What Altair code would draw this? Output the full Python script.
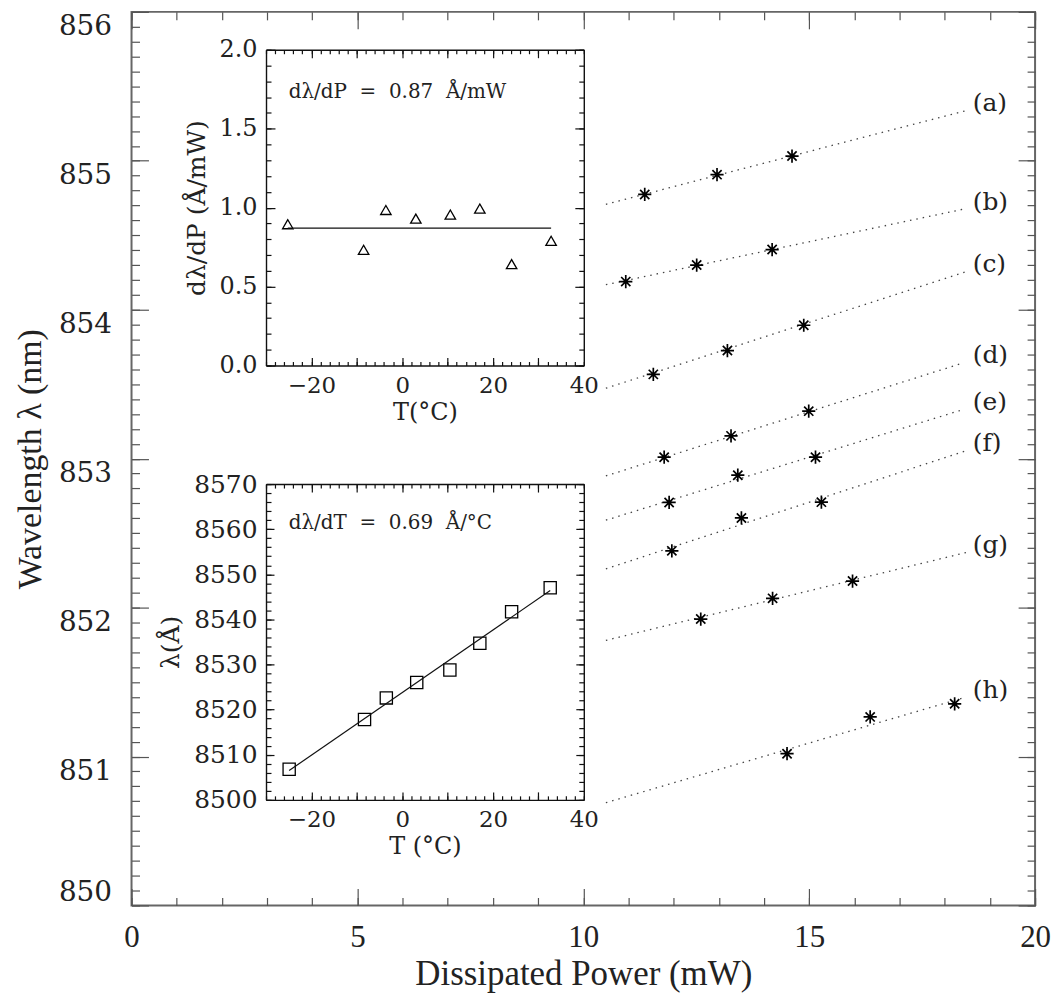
import altair as alt
import pandas as pd

# ---------------- main panel data ----------------
SERIES = ["(a)", "(b)", "(c)", "(d)", "(e)", "(f)", "(g)", "(h)"]
STAR_P = [
    [11.36, 12.96, 14.62],
    [10.94, 12.51, 14.18],
    [11.55, 13.19, 14.88],
    [11.79, 13.27, 14.99],
    [11.90, 13.42, 15.14],
    [11.96, 13.50, 15.27],
    [12.60, 14.19, 15.96],
    [14.51, 16.35, 18.22],
]
STAR_L = [
    [854.774, 854.907, 855.032],
    [854.189, 854.300, 854.404],
    [853.566, 853.726, 853.896],
    [853.010, 853.153, 853.319],
    [852.706, 852.889, 853.010],
    [852.381, 852.602, 852.708],
    [851.923, 852.062, 852.178],
    [851.019, 851.266, 851.354],
]
FIT_P0 = [10.50, 10.50, 10.50, 10.50, 10.50, 10.50, 10.50, 10.50]
FIT_P1 = [18.51, 18.41, 18.48, 18.41, 18.41, 18.48, 18.48, 18.41]
FIT_L0 = [854.708, 854.168, 853.473, 852.884, 852.587, 852.260, 851.780, 850.690]
FIT_L1 = [855.340, 854.675, 854.256, 853.643, 853.330, 853.054, 852.370, 851.394]

# ---------------- inset 1: dλ/dP vs T ----------------
TEMP_A = [-25.2, -8.5, -3.6, 3.0, 10.6, 17.1, 24.1, 32.8]
DLDP = [0.895, 0.733, 0.985, 0.930, 0.956, 0.994, 0.642, 0.790]
DLDP_FIT_T = [-25.2, 32.8]
DLDP_FIT = [0.87, 0.87]

# ---------------- inset 2: λ vs T ----------------
TEMP_B = [-24.9, -8.3, -3.5, 3.2, 10.5, 17.1, 24.1, 32.6]
LAMBDA_A = [8506.8, 8517.8, 8522.6, 8526.0, 8528.8, 8534.7, 8541.7, 8547.0]
LAM_FIT_T = [-24.9, 32.6]
LAM_FIT = [8506.5, 8546.4]

# ---------------- tick values ----------------
MAIN_X_TICKS = [0, 5, 10, 15, 20]
MAIN_X_MINOR = list(range(0, 21))
MAIN_Y_TICKS = [850, 851, 852, 853, 854, 855, 856]
MAIN_Y_MINOR = [round(850 + i * 0.1, 1) for i in range(61)]
INSET_T_LABELS = [-20, 0, 20, 40]
INSET_T_MAJOR = [-20, -10, 0, 10, 20, 30]
INSET_T_MINOR = list(range(-30, 41, 2))
DLDP_TICKS = [0.0, 0.5, 1.0, 1.5, 2.0]
DLDP_MINOR = [round(i * 0.1, 1) for i in range(21)]
LAM_TICKS = [8500, 8510, 8520, 8530, 8540, 8550, 8560, 8570]
LAM_MINOR = list(range(8500, 8571, 2))

W, H = 907, 897
TOP = 10  # page y of the plot's top edge

# ---------------- data frames ----------------
stars = pd.DataFrame(
    [{"series": s, "P": p, "L": l}
     for s, ps, ls in zip(SERIES, STAR_P, STAR_L) for p, l in zip(ps, ls)]
)
fits = pd.DataFrame(
    [{"series": s, "P": p, "L": l}
     for s, p0, p1, l0, l1 in zip(SERIES, FIT_P0, FIT_P1, FIT_L0, FIT_L1)
     for p, l in ((p0, l0), (p1, l1))]
)
labels = pd.DataFrame({"series": SERIES, "L": FIT_L1})
labels["L"] = labels["L"] + 0.05
labels["P"] = 18.62

ins1 = pd.DataFrame({"T": TEMP_A, "V": DLDP})
ins1_fit = pd.DataFrame({"T": DLDP_FIT_T, "V": DLDP_FIT})
ins1_txt = pd.DataFrame({"T": [-25.0], "V": [1.735],
                         "txt": ["dλ/dP\u00a0 =\u00a0 0.87\u00a0 Å/mW"]})

ins2 = pd.DataFrame({"T": TEMP_B, "V": LAMBDA_A})
ins2_fit = pd.DataFrame({"T": LAM_FIT_T, "V": LAM_FIT})
ins2_txt = pd.DataFrame({"T": [-25.0], "V": [8561.4],
                         "txt": ["dλ/dT\u00a0 =\u00a0 0.69\u00a0 Å/°C"]})


# ---------------- scales ----------------
def sc(domain, rng=None):
    if rng is None:
        return alt.Scale(domain=domain, nice=False, zero=False)
    return alt.Scale(domain=domain, range=rng, nice=False, zero=False)


# inset frames in page pixels: x 267..586, y 48..365 and 484..801
IN_L, IN_R = 267 - 132, 586 - 132
I1_T, I1_B = 48 - TOP, 365 - TOP
I2_T, I2_B = 484 - TOP, 801 - TOP

MX = lambda: sc([0, 20])
MY = lambda: sc([850, 856])
I1X = lambda: sc([-30, 40], [IN_L, IN_R])
I1Y = lambda: sc([0, 2], [I1_B, I1_T])
I2X = lambda: sc([-30, 40], [IN_L, IN_R])
I2Y = lambda: sc([8500, 8570], [I2_B, I2_T])

SERIF_C = "DejaVu Serif"
SERIF_H = "Liberation Serif"
MAIN_TICK = "#555555"
INK = "#111111"
TXT = "#222222"


def tick_axis(orient, offset, values, size, color, domain=False, width=1.2):
    kw = dict(orient=orient, offset=offset, values=values, tickSize=size, ticks=True,
              labels=False, grid=False, title=None, tickColor=color, tickWidth=width,
              domain=domain)
    if domain:
        kw.update(domainColor=color, domainWidth=1.4)
    return alt.Axis(**kw)


def ghost(df, xs, ys, xaxis, yaxis):
    return alt.Chart(df).mark_point(opacity=0).encode(
        x=alt.X("T:Q" if "T" in df.columns else "P:Q", scale=xs, axis=xaxis),
        y=alt.Y("V:Q" if "V" in df.columns else "L:Q", scale=ys, axis=yaxis),
    )


STAR = "M0,-1L0,1M-1,0L1,0M-0.7,-0.7L0.7,0.7M-0.7,0.7L0.7,-0.7"

# ---------------- main panel layers ----------------
main_stars = alt.Chart(stars).mark_point(
    shape=STAR, filled=False, stroke="black", strokeWidth=1.7, size=175, opacity=1
).encode(
    x=alt.X("P:Q", scale=MX(), axis=alt.Axis(
        orient="bottom", values=MAIN_X_TICKS, ticks=False, tickSize=0, domain=False, grid=False,
        labelFont=SERIF_H, labelFontSize=31, labelPadding=17, labelColor=TXT,
        labelFlush=False, labelOverlap=False,
        title="Dissipated Power (mW)", titleFont=SERIF_H, titleFontSize=35,
        titleFontWeight="normal", titlePadding=4, titleColor=TXT)),
    y=alt.Y("L:Q", scale=MY(), axis=alt.Axis(
        orient="left", values=MAIN_Y_TICKS, ticks=False, tickSize=0, domain=False, grid=False,
        labelFont=SERIF_C, labelFontSize=28, labelPadding=20, labelColor=TXT,
        labelBaseline={"condition": {"test": "datum.value == 850", "value": "bottom"},
                       "value": "top"},
        labelOffset=1, labelOverlap=False, format="d",
        title="Wavelength λ (nm)", titleFont=SERIF_H, titleFontSize=34,
        titleFontWeight="normal", titlePadding=11, titleColor=TXT)),
)

main_lines = alt.Chart(fits).mark_line(
    color="#444444", strokeWidth=1.3, strokeDash=[1.5, 5]
).encode(
    x=alt.X("P:Q", scale=MX(), axis=None),
    y=alt.Y("L:Q", scale=MY(), axis=None),
    detail="series:N",
)

main_labels = alt.Chart(labels).mark_text(
    align="left", baseline="middle", font=SERIF_C, fontSize=25, color=TXT
).encode(
    x=alt.X("P:Q", scale=MX(), axis=None),
    y=alt.Y("L:Q", scale=MY(), axis=None),
    text="series:N",
)

m_major_bl = ghost(stars, MX(), MY(),
                   tick_axis("top", -H, MAIN_X_TICKS, 17, MAIN_TICK),
                   tick_axis("right", -W, MAIN_Y_TICKS, 17, MAIN_TICK))
m_minor_bl = ghost(stars, MX(), MY(),
                   tick_axis("top", -H, MAIN_X_MINOR, 8, MAIN_TICK),
                   tick_axis("right", -W, MAIN_Y_MINOR, 8, MAIN_TICK))
m_major_tr = ghost(stars, MX(), MY(),
                   tick_axis("bottom", -H, MAIN_X_TICKS, 17, MAIN_TICK),
                   tick_axis("left", -W, MAIN_Y_TICKS, 17, MAIN_TICK))
m_minor_tr = ghost(stars, MX(), MY(),
                   tick_axis("bottom", -H, MAIN_X_MINOR, 8, MAIN_TICK),
                   tick_axis("left", -W, MAIN_Y_MINOR, 8, MAIN_TICK))


# ---------------- inset builder ----------------
def inset(df, fit_df, txt_df, xs, ys, y_top, y_bottom,
          shape, msize, y_vals, y_minor, y_major_len, y_fmt, y_label_size,
          x_title, y_title):
    pts = alt.Chart(df).mark_point(
        shape=shape, filled=False, stroke="black", strokeWidth=1.3, size=msize, opacity=1
    ).encode(
        x=alt.X("T:Q", scale=xs(), axis=alt.Axis(
            orient="bottom", offset=-(H - y_bottom), values=INSET_T_LABELS, ticks=False,
            tickSize=0, grid=False, domain=True, domainColor=INK, domainWidth=1.4,
            labelFont=SERIF_C, labelFontSize=23, labelPadding=9, labelColor=TXT,
            labelFlush=False, labelOverlap=False,
            title=x_title, titleFont=SERIF_C, titleFontSize=24, titleFontWeight="normal",
            titlePadding=3, titleColor=TXT)),
        y=alt.Y("V:Q", scale=ys(), axis=alt.Axis(
            orient="left", offset=-IN_L, values=y_vals, ticks=False, tickSize=0,
            grid=False, domain=True, domainColor=INK, domainWidth=1.4,
            labelFont=SERIF_C, labelFontSize=y_label_size, labelPadding=9,
            labelColor=TXT, labelOverlap=False, format=y_fmt,
            title=y_title, titleFont=SERIF_C, titleFontSize=25, titleFontWeight="normal",
            titlePadding=10, titleColor=TXT)),
    )
    line = alt.Chart(fit_df).mark_line(color=INK, strokeWidth=1.2).encode(
        x=alt.X("T:Q", scale=xs(), axis=None),
        y=alt.Y("V:Q", scale=ys(), axis=None),
    )
    txt = alt.Chart(txt_df).mark_text(
        align="left", baseline="middle", font=SERIF_C, fontSize=20, color=TXT
    ).encode(
        x=alt.X("T:Q", scale=xs(), axis=None),
        y=alt.Y("V:Q", scale=ys(), axis=None),
        text="txt:N",
    )
    major_bl = ghost(df, xs(), ys(),
                     tick_axis("top", -y_bottom, INSET_T_MAJOR, 8, INK),
                     tick_axis("right", -(W - IN_L), y_vals, y_major_len, INK))
    minor_bl = ghost(df, xs(), ys(),
                     tick_axis("top", -y_bottom, INSET_T_MINOR, 4, INK),
                     tick_axis("right", -(W - IN_L), y_minor, 5, INK))
    major_tr = ghost(df, xs(), ys(),
                     tick_axis("bottom", -(H - y_top), INSET_T_MAJOR, 8, INK, domain=True),
                     tick_axis("left", -IN_R, y_vals, y_major_len, INK, domain=True))
    minor_tr = ghost(df, xs(), ys(),
                     tick_axis("bottom", -(H - y_top), INSET_T_MINOR, 4, INK),
                     tick_axis("left", -IN_R, y_minor, 5, INK))
    return [pts, line, txt, major_bl, minor_bl, major_tr, minor_tr]


inset1 = inset(ins1, ins1_fit, ins1_txt, I1X, I1Y, I1_T, I1_B,
               "triangle-up", 110, DLDP_TICKS, DLDP_MINOR, 9, ".1f", 24,
               "T(°C)", "dλ/dP (Å/mW)")
inset2 = inset(ins2, ins2_fit, ins2_txt, I2X, I2Y, I2_T, I2_B,
               "square", 150, LAM_TICKS, LAM_MINOR, 8, "d", 25,
               "T (°C)", "λ(Å)")

chart = alt.layer(
    m_major_bl, m_minor_bl, m_major_tr, m_minor_tr,
    main_lines, main_stars, main_labels,
    *inset1, *inset2,
).resolve_scale(
    x="independent", y="independent"
).properties(
    width=W, height=H,
    autosize=alt.AutoSizeParams(type="none"),
    padding={"left": 124, "top": TOP - 8, "right": 17, "bottom": 88},
    background="white",
).configure_view(
    stroke="#666666", strokeWidth=2
)

chart.save("out.html", embed_options={"renderer": "svg", "actions": False})
